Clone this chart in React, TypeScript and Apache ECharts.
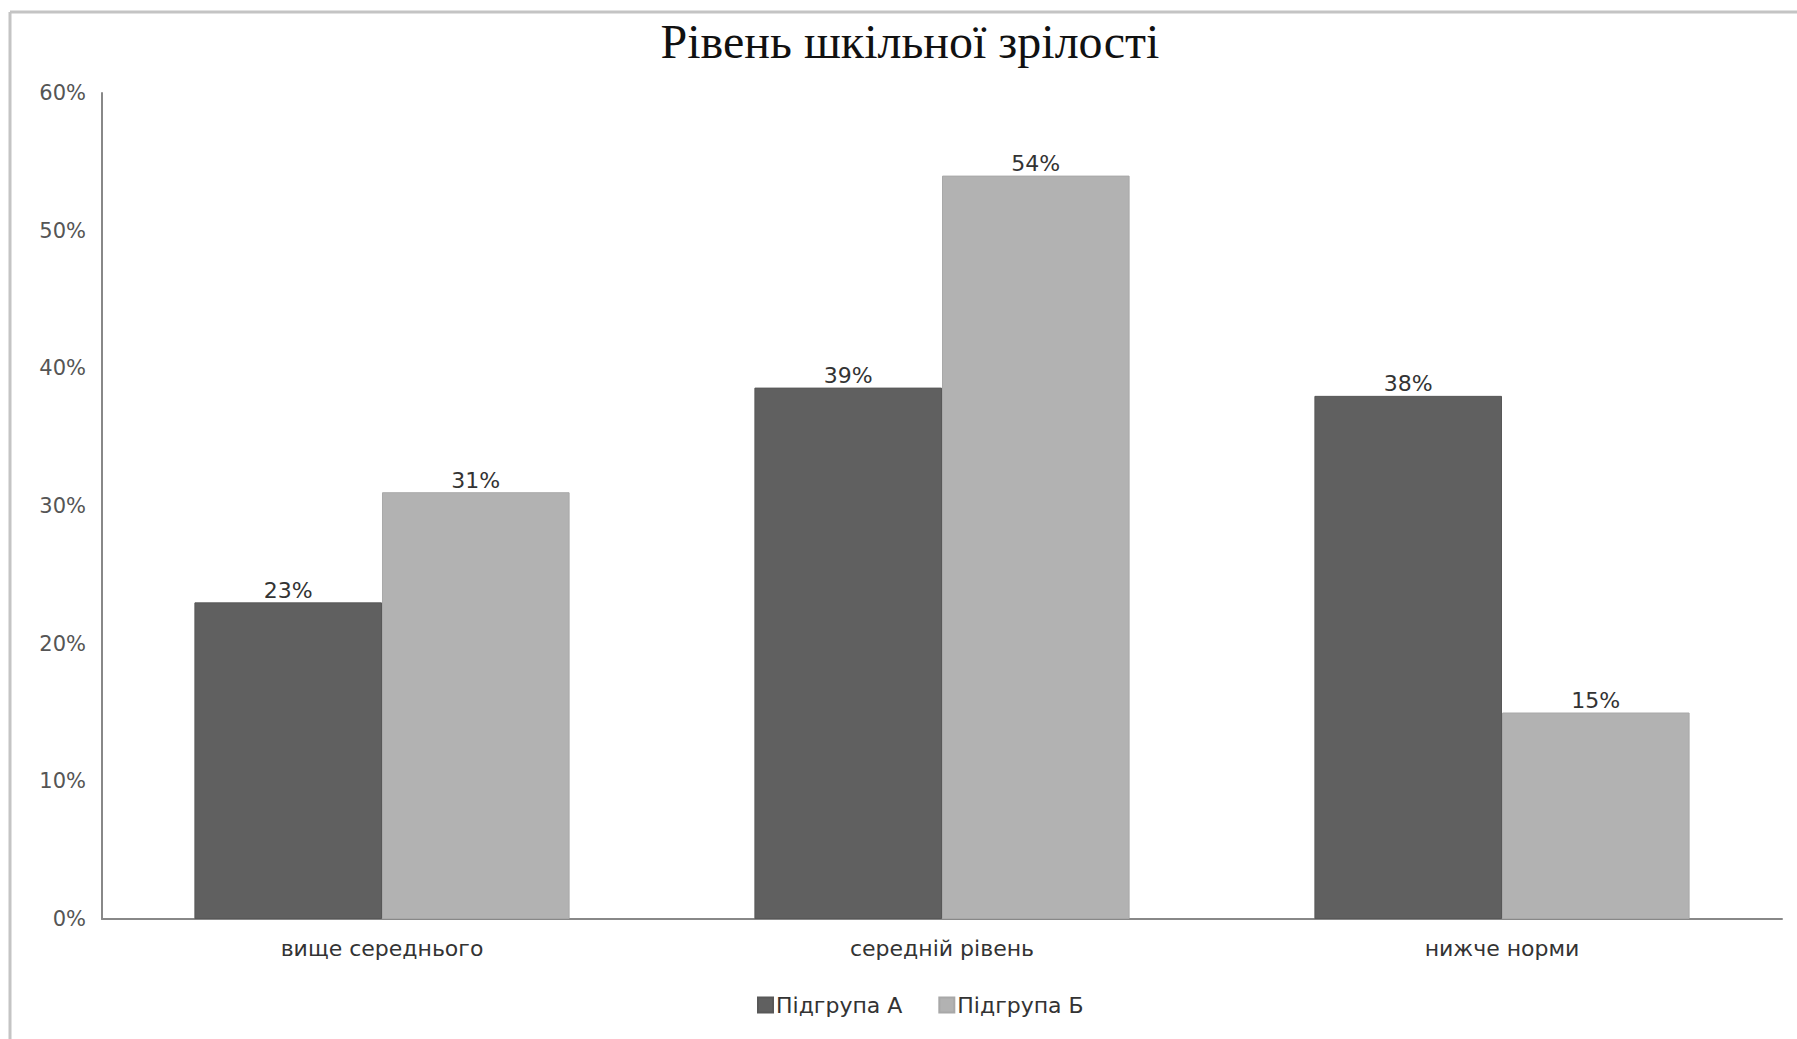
import React, { useEffect, useRef } from "react";
import * as echarts from "echarts";

const titleText = "Рівень шкільної зрілості";
const categories = ["вище середнього", "середній рівень", "нижче норми"];
const seriesNames = ["Підгрупа А", "Підгрупа Б"];
const groupA = [23, 38.6, 38];
const groupB = [31, 54, 15];
const yTicks = { min: 0, max: 60, interval: 10 };

export default function App() {
  const ref = useRef<HTMLDivElement>(null);
  useEffect(() => {
    if (!ref.current) return;
    const chart = echarts.init(ref.current, undefined, { renderer: "svg" });
    const labelFont = "DejaVu Sans";
    const dataLabel = {
      show: true,
      position: "top",
      distance: 1,
      fontFamily: labelFont,
      fontSize: 22,
      color: "#333333",
      formatter: (p: any) => Math.round(p.value) + "%",
    };
    chart.setOption({
      animation: false,
      backgroundColor: "#ffffff",
      title: {
        text: titleText,
        left: 905,
        textAlign: "center",
        top: 12,
        textStyle: {
          fontFamily: "Liberation Serif",
          fontWeight: "normal",
          fontSize: 48,
          color: "#111111",
        },
      },
      graphic: [
        { type: "line", shape: { x1: 10, y1: 12, x2: 1797, y2: 12 }, style: { stroke: "#c4c4c4", lineWidth: 3 } },
        { type: "line", shape: { x1: 10, y1: 12, x2: 10, y2: 1039 }, style: { stroke: "#c4c4c4", lineWidth: 3 } },
      ],
      legend: {
        data: seriesNames,
        left: 752,
        top: 989,
        itemWidth: 15,
        itemHeight: 15,
        itemGap: 36,
        icon: "rect",
        textStyle: { fontFamily: labelFont, fontSize: 22, color: "#333333", padding: [0, 0, 0, -2] },
      },
      grid: { left: 102, right: 15, top: 93, bottom: 120, containLabel: false },
      xAxis: {
        type: "category",
        data: categories,
        axisLine: { lineStyle: { color: "#888888", width: 2 } },
        axisTick: { show: false },
        axisLabel: { fontFamily: labelFont, fontSize: 22, color: "#333333", margin: 18 },
      },
      yAxis: {
        type: "value",
        min: yTicks.min,
        max: yTicks.max,
        interval: yTicks.interval,
        splitLine: { show: false },
        axisLine: { show: true, lineStyle: { color: "#888888", width: 2 } },
        axisTick: { show: false },
        axisLabel: {
          fontFamily: labelFont,
          fontSize: 21,
          color: "#555555",
          margin: 16,
          formatter: "{value}%",
        },
      },
      series: [
        {
          name: seriesNames[0],
          type: "bar",
          data: groupA,
          barGap: "0%",
          barCategoryGap: "33%",
          itemStyle: { color: "#606060", borderColor: "#585858", borderWidth: 1 },
          label: dataLabel,
        },
        {
          name: seriesNames[1],
          type: "bar",
          data: groupB,
          itemStyle: { color: "#b2b2b2", borderColor: "#a8a8a8", borderWidth: 1 },
          label: dataLabel,
        },
      ],
    });
    return () => chart.dispose();
  }, []);
  return <div ref={ref} style={{ width: 1797, height: 1039, position: "absolute", left: 0, top: 0 }} />;
}
